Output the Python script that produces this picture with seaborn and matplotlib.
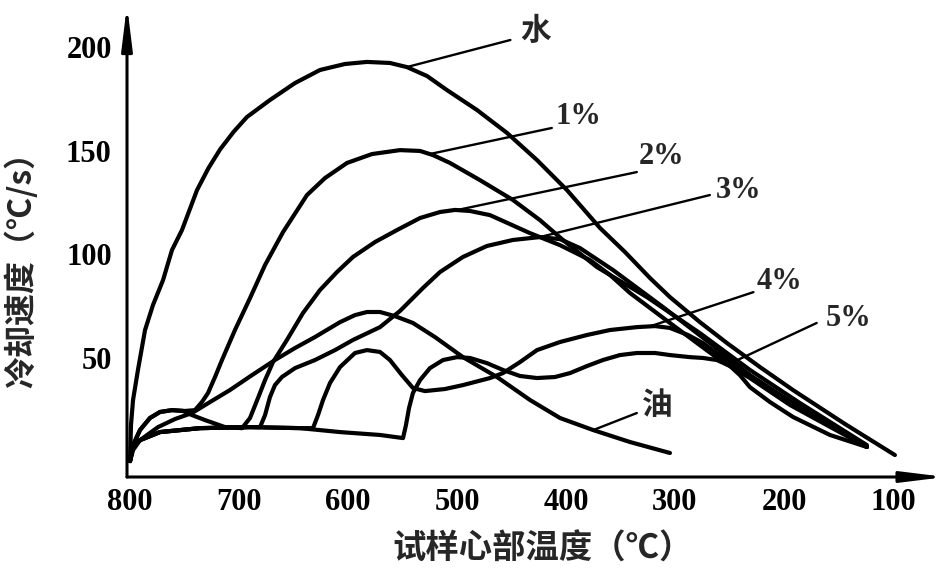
import numpy as np
import pandas as pd
import matplotlib
matplotlib.use("Agg")
import matplotlib.pyplot as plt
import seaborn as sns

# ---------------- data ----------------
water_T = [800, 799.1, 797.2, 792.7, 786.2, 778.9, 769.7, 761.5, 752.3, 738.5, 728.0, 717.4,
           705.0, 692.7, 671.6, 648.6, 625.7, 602.8, 582.6, 561.5, 545.9, 527.5, 509.2, 481.7,
           454.1, 426.6, 399.1, 368.8, 345.9, 322.9, 304.6, 277.1, 252.3, 222.0, 191.7, 144.0, 98.2]
water_v = [0, 17.4, 29.5, 44.0, 63.3, 75.4, 87.4, 101.9, 111.6, 130.9, 141.5, 150.5,
           159.0, 166.2, 174.4, 182.6, 188.9, 191.8, 192.8, 192.3, 190.3, 186.0, 179.2, 169.6,
           158.5, 145.4, 130.9, 112.6, 101.0, 88.4, 79.2, 67.1, 57.0, 45.4, 34.3, 17.9, 2.9]

p1_T = [800, 797.2, 790.8, 781.7, 772.5, 761.5, 749.5, 740.4, 734.0, 728.4, 722.0, 715.6,
        703.7, 689.9, 676.1, 659.6, 637.6, 621.1, 600.9, 578.0, 552.3, 533.9, 522.0, 506.4,
        478.9, 448.6, 423.9, 402.8, 371.6, 325.7, 277.1, 231.2, 185.3, 123.9]
p1_v = [0, 7.7, 15.0, 20.8, 23.7, 24.6, 24.2, 24.6, 28.5, 32.9, 40.6, 48.8,
        63.3, 78.7, 94.7, 110.6, 128.5, 136.7, 144.0, 148.3, 150.2, 149.8, 147.8, 144.0,
        135.7, 126.1, 116.4, 106.8, 93.7, 79.2, 61.8, 44.0, 28.0, 7.7]

p2_T = [800, 797.2, 790.8, 781.7, 772.5, 761.5, 751.4, 743.1, 731.2, 712.8, 697.2, 689.9,
        682.6, 676.1, 668.8, 656.0, 641.3, 625.7, 610.1, 595.4, 575.2, 555.0, 533.9, 515.6,
        501.8, 488.1, 469.7, 433.0, 405.5, 378.0, 359.6, 341.3, 304.6, 258.7, 231.2, 194.5, 123.9]
p2_v = [0, 7.7, 15.0, 20.8, 23.7, 24.6, 24.2, 22.2, 19.8, 16.4, 15.9, 20.8,
        30.4, 39.1, 47.8, 58.5, 71.5, 82.6, 91.3, 98.6, 105.8, 111.6, 117.4, 120.3,
        121.3, 120.8, 118.8, 110.1, 104.3, 97.1, 89.9, 81.2, 66.7, 48.8, 40.1, 27.1, 6.8]

p3_T = [800, 797.2, 790.8, 772.5, 735.8, 689.9, 680.7, 676.1, 671.6, 667.0, 660.6, 648.6,
        630.3, 611.9, 595.4, 570.6, 552.3, 531.2, 515.6, 494.5, 472.5, 448.6, 423.9, 405.5,
        387.2, 356.9, 311.0, 267.9, 231.2, 194.5, 123.9]
p3_v = [0, 6.8, 10.1, 14.0, 15.9, 16.4, 16.4, 22.2, 30.9, 36.7, 40.6, 44.9,
        48.8, 53.6, 58.5, 64.7, 72.5, 83.6, 91.3, 98.6, 103.9, 106.8, 108.2, 107.2,
        102.9, 92.3, 74.4, 57.0, 41.5, 29.0, 6.8]

p4_T = [800, 797.2, 790.8, 772.5, 735.8, 689.9, 644.0, 632.1, 627.5, 622.9, 616.5, 607.3,
        593.6, 582.6, 570.6, 561.5, 550.5, 540.4, 529.4, 511.0, 494.5, 469.7, 457.8, 442.2,
        426.6, 405.5, 380.7, 359.6, 334.9, 318.3, 304.6, 288.1, 274.3, 249.5, 231.2, 194.5, 123.9]
p4_v = [0, 6.8, 10.1, 14.0, 15.9, 16.4, 15.9, 15.9, 22.2, 29.5, 37.7, 45.4,
        52.2, 53.6, 52.7, 48.8, 41.5, 35.3, 33.8, 34.8, 36.7, 40.1, 42.5, 47.8,
        53.6, 57.5, 60.9, 63.3, 64.7, 65.2, 64.3, 60.9, 57.0, 47.3, 41.1, 28.5, 6.8]

p5_T = [800, 797.2, 790.8, 772.5, 735.8, 689.9, 644.0, 607.3, 570.6, 549.5, 546.8, 544.0,
        540.4, 533.9, 524.8, 512.8, 500.0, 488.1, 472.5, 457.8, 442.2, 426.6, 410.1, 396.3,
        380.7, 366.1, 350.5, 334.9, 318.3, 304.6, 286.2, 274.3, 261.5, 249.5, 240.4, 231.2,
        212.8, 191.7, 157.8, 123.9]
p5_v = [0, 6.8, 10.1, 14.0, 15.9, 16.4, 15.9, 14.0, 12.6, 11.1, 17.4, 25.6,
        32.9, 39.1, 44.9, 48.8, 50.2, 49.8, 47.3, 44.0, 41.1, 40.1, 40.6, 42.5,
        45.9, 48.8, 51.2, 52.2, 52.2, 51.2, 50.2, 49.8, 48.8, 45.9, 41.5, 35.7,
        28.5, 21.3, 12.6, 6.8]

oil_T = [800, 797.2, 790.8, 774.3, 758.7, 743.1, 726.6, 708.3, 688.1, 667.0, 648.6, 630.3,
         607.3, 593.6, 582.6, 570.6, 556.9, 540.4, 520.2, 494.5, 463.3, 433.0, 405.5, 375.2,
         341.3, 304.6]
oil_v = [0, 5.3, 10.1, 16.4, 20.3, 23.2, 28.5, 34.3, 41.5, 48.8, 54.6, 59.9,
         67.1, 70.5, 72.0, 72.0, 70.0, 66.7, 59.9, 50.2, 40.6, 29.5, 20.8, 15.0,
         9.2, 3.9]

curve_names = ["水", "1%", "2%", "3%", "4%", "5%", "油"]
curve_T = [water_T, p1_T, p2_T, p3_T, p4_T, p5_T, oil_T]
curve_v = [water_v, p1_v, p2_v, p3_v, p4_v, p5_v, oil_v]

x_ticks = [800, 700, 600, 500, 400, 300, 200, 100]
x_tick_labels = ["800", "700", "600", "500", "400", "300", "200", "100"]
y_ticks = [50, 100, 150, 200]
y_tick_labels = ["50", "100", "150", "200"]

x_label = "试样心部温度（℃）"
y_label = "冷却速度（℃/s）"

# label placement (leader start temperature on curve, leader end, text centre)
leader_start_T = [546, 525, 500, 424, 323, 252, 375]
leader_end = [(451, 203.4), (413, 160.9), (335, 139.6), (268, 128.5), (228, 81.6), (170, 66.7), (335, 23.2)]
label_pos = [(428, 207.7), (389, 166.2), (312, 146.9), (242, 130.9), (204, 86.5), (141, 69.1), (316, 27.1)]

# ---------------- build long table ----------------
frames = []
for name, T, v in zip(curve_names, curve_T, curve_v):
    frames.append(pd.DataFrame({"T": T, "v": v, "curve": name}))
df = pd.concat(frames, ignore_index=True)

sns.set_style("white")
plt.rcParams["font.family"] = ["Liberation Serif", "Noto Sans CJK SC", "DejaVu Sans"]

W, H = 951, 578
fig = plt.figure(figsize=(W / 100, H / 100), dpi=100)
ax = fig.add_axes([127 / W, 1 - 477 / H, (945.6 - 127) / W, 472 / H])

sns.lineplot(data=df, x="T", y="v", hue="curve", palette={n: "black" for n in curve_names},
             estimator=None, sort=False, legend=False, linewidth=3.0, ax=ax)
for line in ax.lines:
    line.set_solid_capstyle("round")
    line.set_solid_joinstyle("round")

ax.set_xlim(802.75, 51.7)
ax.set_ylim(-7.7, 220.3)

for s in ax.spines.values():
    s.set_visible(False)

# axes with arrow heads
arrow_style = "-|>,head_length=2.6,head_width=0.32"
for tip in [(0, 1), (1, 0)]:
    ax.annotate("", xy=tip, xytext=(0, 0), xycoords="axes fraction", textcoords="axes fraction",
                arrowprops=dict(arrowstyle=arrow_style, color="black", lw=2.2, shrinkA=0, shrinkB=0,
                                mutation_scale=10), annotation_clip=False)

ax.set_xticks(x_ticks)
ax.set_xticklabels(x_tick_labels, fontsize=22, fontweight="bold")
ax.set_yticks(y_ticks)
ax.set_yticklabels(y_tick_labels, fontsize=22, fontweight="bold")
ax.tick_params(axis="both", direction="in", length=11, width=2.2, colors="black")
ax.tick_params(axis="x", pad=8)
ax.tick_params(axis="y", pad=11)
ax.set_xlabel("")
ax.set_ylabel("")

# curve labels with leader lines
for name, T, v, ts, le, lp in zip(curve_names, curve_T, curve_v, leader_start_T, leader_end, label_pos):
    vs = np.interp(ts, T[::-1], v[::-1])
    ax.plot([ts, le[0]], [vs, le[1]], color="black", lw=1.7, solid_capstyle="round")
    cjk = name in ("水", "油")
    ax.text(lp[0], lp[1], name, ha="center", va="center", fontsize=22, fontweight="bold",
            family=(["Noto Sans CJK SC", "DejaVu Sans"] if cjk else ["Liberation Serif", "DejaVu Sans"]))

fig.text(22 / W, 1 - 262 / H, y_label, rotation=90, ha="center", va="center", fontsize=23,
         fontweight="bold", family=["Noto Sans CJK SC", "DejaVu Sans"])
fig.text(543 / W, 1 - 549 / H, x_label, ha="center", va="center", fontsize=24,
         fontweight="bold", family=["Noto Sans CJK SC", "DejaVu Sans"])

fig.savefig("out.png", dpi=100, facecolor="white")
